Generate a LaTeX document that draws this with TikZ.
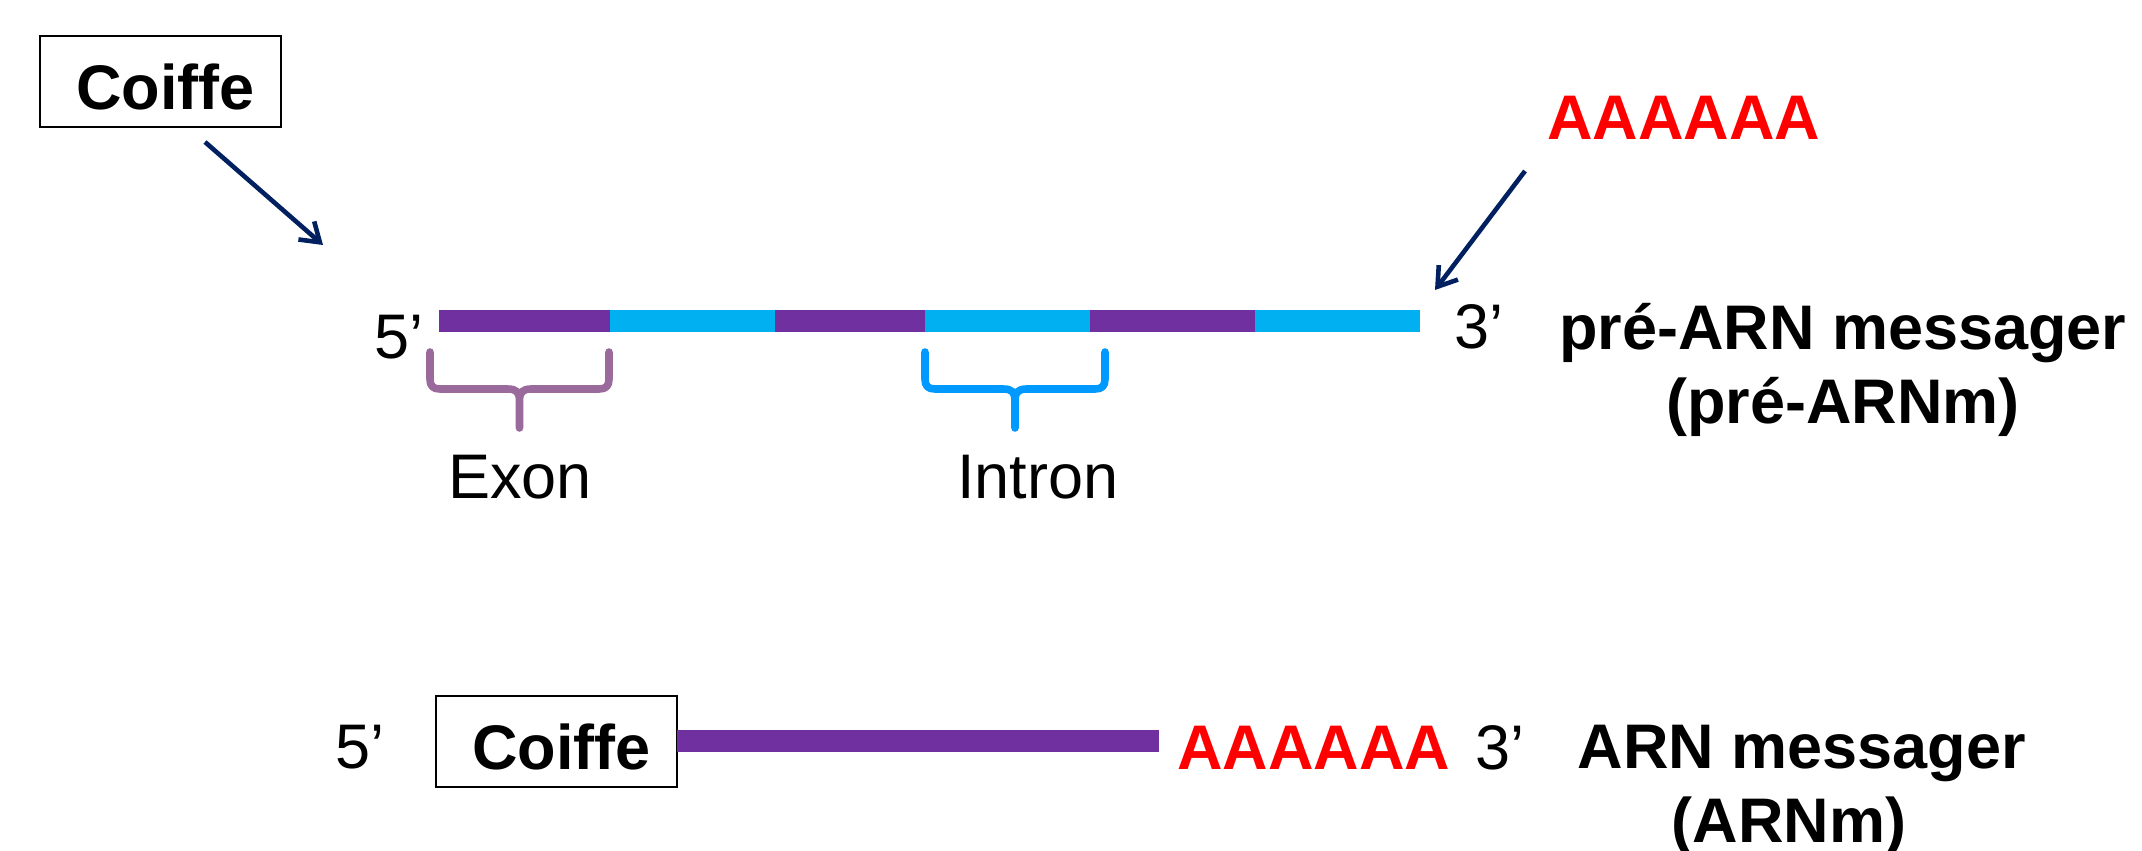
\documentclass[tikz,border=0pt]{standalone}
\usepackage{fontspec}
\setmainfont{Liberation Sans}
\usetikzlibrary{arrows.meta}

\definecolor{exonpurple}{HTML}{7030A0}
\definecolor{introncyan}{HTML}{00B0F0}
\definecolor{navyarrow}{HTML}{002060}
\definecolor{exonbrace}{HTML}{9A6A9C}
\definecolor{intronbrace}{HTML}{0099FF}
\definecolor{polyared}{HTML}{FF0000}

% curly brace under one segment of the strand: left x, right x, colour
\newcommand{\segbrace}[3]{%
  \pgfmathsetmacro\bmid{(#1+#2)/2}%
  \draw[brace,#3]
    (#1,352) -- (#1,379) .. controls (#1,386) and ({#1+3},389) .. ({#1+10},389)
      -- ({\bmid-12},389) .. controls ({\bmid-3},389) and (\bmid,392) .. (\bmid,401)
      -- (\bmid,428)
    (#2,352) -- (#2,379) .. controls (#2,386) and ({#2-3},389) .. ({#2-10},389)
      -- ({\bmid+12},389) .. controls ({\bmid+3},389) and (\bmid,392) .. (\bmid,401);
}

\begin{document}
\begin{tikzpicture}[x=0.5pt,y=-0.5pt,
  txt/.style={inner sep=0pt, font=\fontsize{31.5pt}{37pt}\selectfont},
  boldtxt/.style={inner sep=0pt, font=\fontsize{31.5pt}{37pt}\selectfont\bfseries},
  capbox/.style={boldtxt, draw=black, line width=0.9pt,
    minimum width=120.5pt, minimum height=45.5pt, text height=27.5pt, text depth=0pt},
  polya/.style={boldtxt, text=polyared, anchor=base west},
  pointer/.style={draw=navyarrow, line width=2.3pt,
    -{Straight Barb[length=9pt,width=12pt]}},
  brace/.style={line width=3.8pt, line cap=round, line join=round},
  exonseg/.style={fill=exonpurple},
  intronseg/.style={fill=introncyan}]

\useasboundingbox (0,0) rectangle (2142,851);

% ---- pre-mRNA ----
\node[capbox] (capTop) at (160.5,81.5) {\kern5pt Coiffe};
\node[polya] (polyTop) at (1547,139) {AAAAAA};

\coordinate (capTail) at (205,142);
\coordinate (capTip) at (323,245);
\draw[pointer] (capTail) -- (capTip);

\coordinate (polyTail) at (1525,171);
\coordinate (polyTip) at (1435,290);
\draw[pointer] (polyTail) -- (polyTip);

\node[txt, anchor=base west] (fiveTop) at (374,358) {5’};
\node[txt, anchor=base west] (threeTop) at (1454,348) {3’};

\fill[exonseg]   (439,310) rectangle (610,332);
\fill[intronseg] (610,310) rectangle (775,332);
\fill[exonseg]   (775,310) rectangle (925,332);
\fill[intronseg] (925,310) rectangle (1090,332);
\fill[exonseg]   (1090,310) rectangle (1255,332);
\fill[intronseg] (1255,310) rectangle (1420,332);

\segbrace{430}{609}{exonbrace}
\segbrace{925}{1105}{intronbrace}

\node[txt, anchor=base west] (exonLbl) at (448,498) {Exon};
\node[txt, anchor=base west] (intronLbl) at (957,498) {Intron};

% two-line labels: the base anchor sits on the last line
\node[boldtxt, align=center, anchor=base] (preLbl) at (1843,423)
  {pré-ARN messager\\(pré-ARNm)};

% ---- mature mRNA ----
\node[txt, anchor=base west] (fiveBot) at (335,768) {5’};
\node[capbox] (capBot) at (556.5,741.5) {\kern5pt Coiffe};

\fill[exonseg] (677,730) rectangle (837,752);
\fill[exonseg] (837,730) rectangle (996,752);
\fill[exonseg] (996,730) rectangle (1159,752);

\node[polya] (polyBot) at (1177,769) {AAAAAA};
\node[txt, anchor=base west] (threeBot) at (1475,769) {3’};

\node[boldtxt, align=center, anchor=base] (mLbl) at (1802,842)
  {ARN messager\\(ARNm)\hspace*{13pt}};

\end{tikzpicture}
\end{document}
